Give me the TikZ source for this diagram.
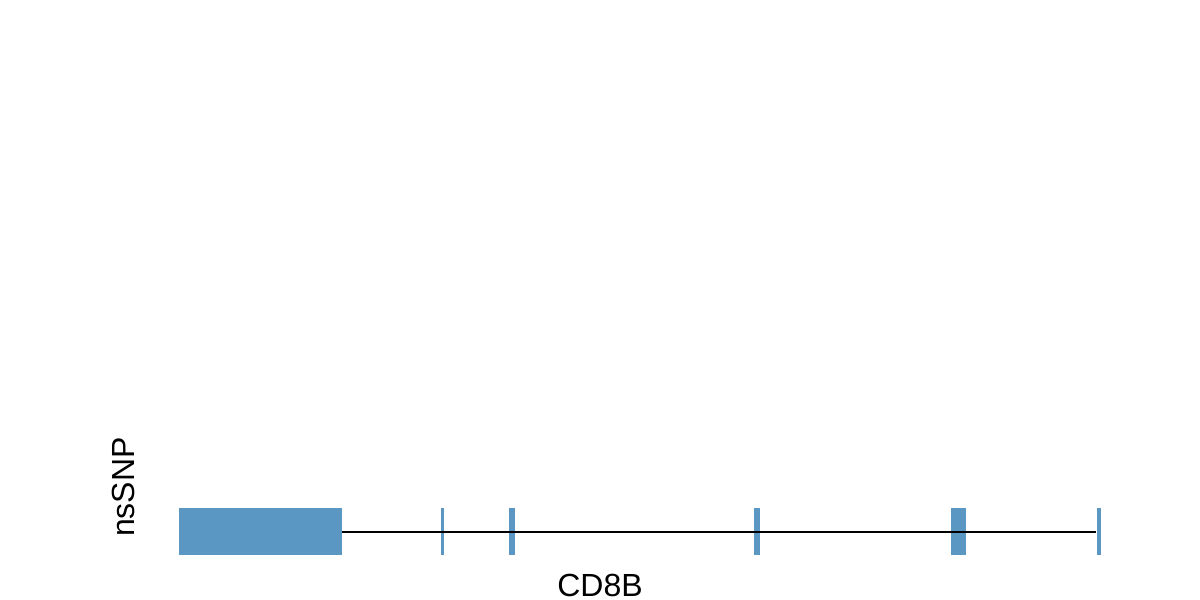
\documentclass[tikz,border=0pt]{standalone}
\usepackage{fontspec}
\setmainfont{Liberation Sans}
\usetikzlibrary{positioning}
\definecolor{exonBlue}{RGB}{91,151,195}

\begin{document}
\begin{tikzpicture}[
    x=0.5pt, y=0.5pt,
    font=\fontsize{16}{19}\selectfont,
    exon/.style={rectangle, fill=exonBlue, inner sep=0pt, minimum height=23.5pt},
    intron/.style={line width=1pt, black},
  ]
    \useasboundingbox (0,0) rectangle (1200,600);
    \node[exon, minimum width=81.5pt] (ex1) at (260.5,68.5) {};
    \node[exon, minimum width=1.75pt] (ex2) at (442.5,68.5) {};
    \node[exon, minimum width=3pt] (ex3) at (512,68.5) {};
    \node[exon, minimum width=3pt] (ex4) at (757,68.5) {};
    \node[exon, minimum width=7.5pt] (ex5) at (958.5,68.5) {};
    \node[exon, minimum width=2.25pt] (ex6) at (1099,68.5) {};
    \begin{scope}[on background layer/.try]
      \draw[intron] (ex1.east |- 0,68) -- (ex6.west |- 0,68);
    \end{scope}
    \node[rotate=90] (track) at (123,113) {nsSNP};
    \node[inner sep=0pt] (gene) at (600,15) {CD8B};
  \end{tikzpicture}
\end{document}
